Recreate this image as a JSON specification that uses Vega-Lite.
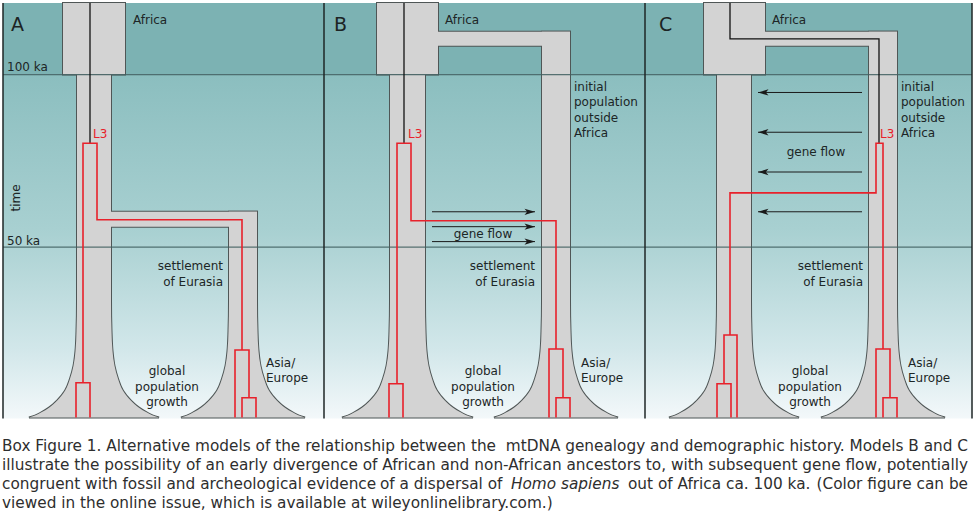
{
  "$schema": "https://vega.github.io/schema/vega-lite/v6.json",
  "width": 974,
  "height": 514,
  "autosize": {"type": "fit", "contains": "padding"},
  "padding": 0,
  "background": "white",
  "config": {
    "view": {"stroke": null},
    "axis": {"disable": true},
    "legend": {"disable": true}
  },
  "datasets": {
    "zones": [
      {"panel": "A", "zone": "before 100 ka", "x0": 3, "x1": 324, "y0": 0, "y1": 72},
      {"panel": "B", "zone": "before 100 ka", "x0": 324, "x1": 645, "y0": 0, "y1": 72},
      {"panel": "C", "zone": "before 100 ka", "x0": 645, "x1": 972, "y0": 0, "y1": 72},
      {"panel": "A", "zone": "after 100 ka", "x0": 3, "x1": 324, "y0": 72, "y1": 418},
      {"panel": "B", "zone": "after 100 ka", "x0": 324, "x1": 645, "y0": 72, "y1": 418},
      {"panel": "C", "zone": "after 100 ka", "x0": 645, "x1": 972, "y0": 72, "y1": 418}
    ],
    "blocks": [
      {"panel": "A", "part": "Africa", "x0": 63, "x1": 125, "y0": 0, "y1": 72},
      {"panel": "A", "part": "arm", "x0": 105, "x1": 257, "y0": 210, "y1": 225},
      {"panel": "B", "part": "Africa", "x0": 377, "x1": 438, "y0": 0, "y1": 72},
      {"panel": "B", "part": "arm", "x0": 430, "x1": 570, "y0": 29, "y1": 43},
      {"panel": "C", "part": "Africa", "x0": 704, "x1": 765, "y0": 0, "y1": 72},
      {"panel": "C", "part": "arm", "x0": 760, "x1": 897, "y0": 29, "y1": 43}
    ],
    "columns": [
      {"col": "A-africa", "y": 72, "xl": 77, "xr": 111},
      {"col": "A-africa", "y": 300, "xl": 77, "xr": 111},
      {"col": "A-africa", "y": 330, "xl": 76.5, "xr": 111.5},
      {"col": "A-africa", "y": 350, "xl": 75.5, "xr": 112.5},
      {"col": "A-africa", "y": 365, "xl": 73.5, "xr": 114.5},
      {"col": "A-africa", "y": 378, "xl": 70, "xr": 118},
      {"col": "A-africa", "y": 390, "xl": 65, "xr": 123},
      {"col": "A-africa", "y": 400, "xl": 57, "xr": 131},
      {"col": "A-africa", "y": 407, "xl": 49, "xr": 139},
      {"col": "A-africa", "y": 412, "xl": 41, "xr": 147},
      {"col": "A-africa", "y": 415, "xl": 35, "xr": 153},
      {"col": "A-africa", "y": 417, "xl": 29, "xr": 159},
      {"col": "A-eurasia", "y": 210, "xl": 229, "xr": 257},
      {"col": "A-eurasia", "y": 300, "xl": 229, "xr": 257},
      {"col": "A-eurasia", "y": 330, "xl": 228.5, "xr": 257.5},
      {"col": "A-eurasia", "y": 350, "xl": 227.5, "xr": 258.5},
      {"col": "A-eurasia", "y": 365, "xl": 225.5, "xr": 260.5},
      {"col": "A-eurasia", "y": 378, "xl": 222, "xr": 264},
      {"col": "A-eurasia", "y": 390, "xl": 217, "xr": 269},
      {"col": "A-eurasia", "y": 400, "xl": 209, "xr": 277},
      {"col": "A-eurasia", "y": 407, "xl": 201, "xr": 285},
      {"col": "A-eurasia", "y": 412, "xl": 193, "xr": 293},
      {"col": "A-eurasia", "y": 415, "xl": 187, "xr": 299},
      {"col": "A-eurasia", "y": 417, "xl": 181, "xr": 305},
      {"col": "B-africa", "y": 72, "xl": 390, "xr": 425},
      {"col": "B-africa", "y": 300, "xl": 390, "xr": 425},
      {"col": "B-africa", "y": 330, "xl": 389.5, "xr": 425.5},
      {"col": "B-africa", "y": 350, "xl": 388.5, "xr": 426.5},
      {"col": "B-africa", "y": 365, "xl": 386.5, "xr": 428.5},
      {"col": "B-africa", "y": 378, "xl": 383, "xr": 432},
      {"col": "B-africa", "y": 390, "xl": 378, "xr": 437},
      {"col": "B-africa", "y": 400, "xl": 370, "xr": 445},
      {"col": "B-africa", "y": 407, "xl": 362, "xr": 453},
      {"col": "B-africa", "y": 412, "xl": 354, "xr": 461},
      {"col": "B-africa", "y": 415, "xl": 348, "xr": 467},
      {"col": "B-africa", "y": 417, "xl": 342, "xr": 473},
      {"col": "B-eurasia", "y": 29, "xl": 542, "xr": 570},
      {"col": "B-eurasia", "y": 300, "xl": 542, "xr": 570},
      {"col": "B-eurasia", "y": 330, "xl": 541.5, "xr": 570.5},
      {"col": "B-eurasia", "y": 350, "xl": 540.5, "xr": 571.5},
      {"col": "B-eurasia", "y": 365, "xl": 538.5, "xr": 573.5},
      {"col": "B-eurasia", "y": 378, "xl": 535, "xr": 577},
      {"col": "B-eurasia", "y": 390, "xl": 530, "xr": 582},
      {"col": "B-eurasia", "y": 400, "xl": 522, "xr": 590},
      {"col": "B-eurasia", "y": 407, "xl": 514, "xr": 598},
      {"col": "B-eurasia", "y": 412, "xl": 506, "xr": 606},
      {"col": "B-eurasia", "y": 415, "xl": 500, "xr": 612},
      {"col": "B-eurasia", "y": 417, "xl": 494, "xr": 618},
      {"col": "C-africa", "y": 72, "xl": 717, "xr": 751},
      {"col": "C-africa", "y": 300, "xl": 717, "xr": 751},
      {"col": "C-africa", "y": 330, "xl": 716.5, "xr": 751.5},
      {"col": "C-africa", "y": 350, "xl": 715.5, "xr": 752.5},
      {"col": "C-africa", "y": 365, "xl": 713.5, "xr": 754.5},
      {"col": "C-africa", "y": 378, "xl": 710, "xr": 758},
      {"col": "C-africa", "y": 390, "xl": 705, "xr": 763},
      {"col": "C-africa", "y": 400, "xl": 697, "xr": 771},
      {"col": "C-africa", "y": 407, "xl": 689, "xr": 779},
      {"col": "C-africa", "y": 412, "xl": 681, "xr": 787},
      {"col": "C-africa", "y": 415, "xl": 675, "xr": 793},
      {"col": "C-africa", "y": 417, "xl": 669, "xr": 799},
      {"col": "C-eurasia", "y": 29, "xl": 869, "xr": 897},
      {"col": "C-eurasia", "y": 300, "xl": 869, "xr": 897},
      {"col": "C-eurasia", "y": 330, "xl": 868.5, "xr": 897.5},
      {"col": "C-eurasia", "y": 350, "xl": 867.5, "xr": 898.5},
      {"col": "C-eurasia", "y": 365, "xl": 865.5, "xr": 900.5},
      {"col": "C-eurasia", "y": 378, "xl": 862, "xr": 904},
      {"col": "C-eurasia", "y": 390, "xl": 857, "xr": 909},
      {"col": "C-eurasia", "y": 400, "xl": 849, "xr": 917},
      {"col": "C-eurasia", "y": 407, "xl": 841, "xr": 925},
      {"col": "C-eurasia", "y": 412, "xl": 833, "xr": 933},
      {"col": "C-eurasia", "y": 415, "xl": 827, "xr": 939},
      {"col": "C-eurasia", "y": 417, "xl": 821, "xr": 945}
    ],
    "timelines": [
      {"ka": "100 ka", "x0": 3, "x1": 972, "y": 72},
      {"ka": "50 ka", "x0": 3, "x1": 972, "y": 245.5}
    ],
    "frames": [
      {"edge": "A left", "x": 3, "y0": 0, "y1": 418},
      {"edge": "A|B", "x": 324, "y0": 0, "y1": 418},
      {"edge": "B|C", "x": 645, "y0": 0, "y1": 418},
      {"edge": "C right", "x": 972, "y0": 0, "y1": 418}
    ],
    "ancestral": [
      {"path": "A", "ord": 1, "x": 90, "y": 0},
      {"path": "A", "ord": 2, "x": 90, "y": 141},
      {"path": "B", "ord": 1, "x": 404, "y": 0},
      {"path": "B", "ord": 2, "x": 404, "y": 141},
      {"path": "C", "ord": 1, "x": 730, "y": 0},
      {"path": "C", "ord": 2, "x": 730, "y": 36},
      {"path": "C", "ord": 3, "x": 879, "y": 36},
      {"path": "C", "ord": 4, "x": 879, "y": 141}
    ],
    "L3": [
      {"path": "A1", "ord": 1, "x": 76, "y": 417},
      {"path": "A1", "ord": 2, "x": 76, "y": 382},
      {"path": "A1", "ord": 3, "x": 90, "y": 382},
      {"path": "A1", "ord": 4, "x": 90, "y": 417},
      {"path": "A2", "ord": 1, "x": 83, "y": 382},
      {"path": "A2", "ord": 2, "x": 83, "y": 141},
      {"path": "A2", "ord": 3, "x": 97, "y": 141},
      {"path": "A2", "ord": 4, "x": 97, "y": 218},
      {"path": "A2", "ord": 5, "x": 242, "y": 218},
      {"path": "A2", "ord": 6, "x": 242, "y": 349},
      {"path": "A3", "ord": 1, "x": 235, "y": 417},
      {"path": "A3", "ord": 2, "x": 235, "y": 349},
      {"path": "A3", "ord": 3, "x": 249, "y": 349},
      {"path": "A3", "ord": 4, "x": 249, "y": 397},
      {"path": "A4", "ord": 1, "x": 242, "y": 417},
      {"path": "A4", "ord": 2, "x": 242, "y": 397},
      {"path": "A4", "ord": 3, "x": 256, "y": 397},
      {"path": "A4", "ord": 4, "x": 256, "y": 417},
      {"path": "B1", "ord": 1, "x": 389, "y": 417},
      {"path": "B1", "ord": 2, "x": 389, "y": 383},
      {"path": "B1", "ord": 3, "x": 403, "y": 383},
      {"path": "B1", "ord": 4, "x": 403, "y": 417},
      {"path": "B2", "ord": 1, "x": 397, "y": 383},
      {"path": "B2", "ord": 2, "x": 397, "y": 141},
      {"path": "B2", "ord": 3, "x": 411, "y": 141},
      {"path": "B2", "ord": 4, "x": 411, "y": 219},
      {"path": "B2", "ord": 5, "x": 556, "y": 219},
      {"path": "B2", "ord": 6, "x": 556, "y": 348},
      {"path": "B3", "ord": 1, "x": 549, "y": 417},
      {"path": "B3", "ord": 2, "x": 549, "y": 348},
      {"path": "B3", "ord": 3, "x": 563, "y": 348},
      {"path": "B3", "ord": 4, "x": 563, "y": 397},
      {"path": "B4", "ord": 1, "x": 556, "y": 417},
      {"path": "B4", "ord": 2, "x": 556, "y": 397},
      {"path": "B4", "ord": 3, "x": 570, "y": 397},
      {"path": "B4", "ord": 4, "x": 570, "y": 417},
      {"path": "C1", "ord": 1, "x": 730, "y": 334},
      {"path": "C1", "ord": 2, "x": 730, "y": 191},
      {"path": "C1", "ord": 3, "x": 876, "y": 191},
      {"path": "C1", "ord": 4, "x": 876, "y": 141},
      {"path": "C1", "ord": 5, "x": 883, "y": 141},
      {"path": "C1", "ord": 6, "x": 883, "y": 348},
      {"path": "C2", "ord": 1, "x": 724, "y": 383},
      {"path": "C2", "ord": 2, "x": 724, "y": 334},
      {"path": "C2", "ord": 3, "x": 737, "y": 334},
      {"path": "C2", "ord": 4, "x": 737, "y": 417},
      {"path": "C3", "ord": 1, "x": 717, "y": 417},
      {"path": "C3", "ord": 2, "x": 717, "y": 383},
      {"path": "C3", "ord": 3, "x": 731, "y": 383},
      {"path": "C3", "ord": 4, "x": 731, "y": 417},
      {"path": "C4", "ord": 1, "x": 876, "y": 417},
      {"path": "C4", "ord": 2, "x": 876, "y": 348},
      {"path": "C4", "ord": 3, "x": 890, "y": 348},
      {"path": "C4", "ord": 4, "x": 890, "y": 397},
      {"path": "C5", "ord": 1, "x": 883, "y": 417},
      {"path": "C5", "ord": 2, "x": 883, "y": 397},
      {"path": "C5", "ord": 3, "x": 897, "y": 397},
      {"path": "C5", "ord": 4, "x": 897, "y": 417}
    ],
    "geneflow": [
      {"panel": "B", "dir": "east", "from": 432, "to": 535, "y": 210},
      {"panel": "B", "dir": "east", "from": 432, "to": 535, "y": 225},
      {"panel": "B", "dir": "east", "from": 432, "to": 535, "y": 240},
      {"panel": "C", "dir": "west", "from": 862, "to": 758, "y": 90},
      {"panel": "C", "dir": "west", "from": 862, "to": 758, "y": 130},
      {"panel": "C", "dir": "west", "from": 862, "to": 758, "y": 170},
      {"panel": "C", "dir": "west", "from": 862, "to": 758, "y": 210}
    ],
    "labels": [
      {"role": "panel", "t": "A", "x": 11, "y": 22},
      {"role": "panel", "t": "B", "x": 334, "y": 22},
      {"role": "panel", "t": "C", "x": 659, "y": 22},
      {"role": "note", "t": "Africa", "x": 133, "y": 17},
      {"role": "note", "t": "100 ka", "x": 7, "y": 64},
      {"role": "note", "t": "50 ka", "x": 7, "y": 239},
      {"role": "note", "t": "Asia/", "x": 266, "y": 362},
      {"role": "note", "t": "Europe", "x": 266, "y": 377},
      {"role": "note", "t": "Africa", "x": 445, "y": 17},
      {"role": "note", "t": "initial", "x": 574, "y": 84.5},
      {"role": "note", "t": "population", "x": 574, "y": 100},
      {"role": "note", "t": "outside", "x": 574, "y": 115.5},
      {"role": "note", "t": "Africa", "x": 574, "y": 131},
      {"role": "note", "t": "Asia/", "x": 581, "y": 362},
      {"role": "note", "t": "Europe", "x": 581, "y": 377},
      {"role": "note", "t": "Africa", "x": 772, "y": 17},
      {"role": "note", "t": "initial", "x": 901, "y": 84.5},
      {"role": "note", "t": "population", "x": 901, "y": 100},
      {"role": "note", "t": "outside", "x": 901, "y": 115.5},
      {"role": "note", "t": "Africa", "x": 901, "y": 131},
      {"role": "note", "t": "Asia/", "x": 908, "y": 362},
      {"role": "note", "t": "Europe", "x": 908, "y": 377},
      {"role": "noteRight", "t": "settlement", "x": 223, "y": 265},
      {"role": "noteRight", "t": "of Eurasia", "x": 223, "y": 281},
      {"role": "noteRight", "t": "settlement", "x": 535, "y": 265},
      {"role": "noteRight", "t": "of Eurasia", "x": 535, "y": 281},
      {"role": "noteRight", "t": "settlement", "x": 863, "y": 265},
      {"role": "noteRight", "t": "of Eurasia", "x": 863, "y": 281},
      {"role": "noteCenter", "t": "global", "x": 167, "y": 370},
      {"role": "noteCenter", "t": "population", "x": 167, "y": 386},
      {"role": "noteCenter", "t": "growth", "x": 167, "y": 401},
      {"role": "noteCenter", "t": "global", "x": 483, "y": 370},
      {"role": "noteCenter", "t": "population", "x": 483, "y": 386},
      {"role": "noteCenter", "t": "growth", "x": 483, "y": 401},
      {"role": "noteCenter", "t": "global", "x": 810, "y": 370},
      {"role": "noteCenter", "t": "population", "x": 810, "y": 386},
      {"role": "noteCenter", "t": "growth", "x": 810, "y": 401},
      {"role": "noteCenter", "t": "gene flow", "x": 483, "y": 232},
      {"role": "noteCenter", "t": "gene flow", "x": 816, "y": 150},
      {"role": "haplogroup", "t": "L3", "x": 93, "y": 132},
      {"role": "haplogroup", "t": "L3", "x": 408, "y": 132},
      {"role": "haplogroup", "t": "L3", "x": 880, "y": 132},
      {"role": "axis", "t": "time", "x": 16, "y": 196}
    ],
    "caption": [
      {"role": "left", "t": "Box Figure 1. Alternative models of the relationship between the", "x": 2, "y": 451},
      {"role": "right", "t": "mtDNA genealogy and demographic history. Models B and C", "x": 968, "y": 451},
      {"role": "left", "t": "illustrate the possibility of an early divergence of African and", "x": 2, "y": 470},
      {"role": "right", "t": "non-African ancestors to, with subsequent gene flow, potentially", "x": 968, "y": 470},
      {"role": "left", "t": "congruent with fossil and archeological evidence", "x": 2, "y": 489},
      {"role": "left", "t": "of a dispersal of", "x": 380, "y": 489},
      {"role": "italic", "t": "Homo sapiens", "x": 511, "y": 489},
      {"role": "left", "t": "out of Africa ca. 100 ka.", "x": 628, "y": 489},
      {"role": "right", "t": "(Color figure can be", "x": 968, "y": 489},
      {"role": "left", "t": "viewed in the online issue, which is available at wileyonlinelibrary.com.)", "x": 2, "y": 508}
    ]
  },
  "layer": [
    {
      "data": {"name": "zones"},
      "transform": [{"filter": "datum.zone == 'before 100 ka'"}],
      "mark": {"type": "rect", "fill": "#7cb2b3"},
      "encoding": {
        "x": {"field": "x0", "type": "quantitative", "scale": {"domain": [0, 974], "nice": false, "zero": false}},
        "x2": {"field": "x1"},
        "y": {"field": "y0", "type": "quantitative", "scale": {"domain": [0, 514], "nice": false, "zero": false, "reverse": true}},
        "y2": {"field": "y1"}
      }
    },
    {
      "data": {"name": "zones"},
      "transform": [{"filter": "datum.zone == 'after 100 ka'"}],
      "mark": {
        "type": "rect",
        "fill": {
          "gradient": "linear", "x1": 0, "y1": 0, "x2": 0, "y2": 1,
          "stops": [
            {"offset": 0, "color": "#8bbebf"},
            {"offset": 0.45, "color": "#a8d0d1"},
            {"offset": 0.8, "color": "#d2e7ea"},
            {"offset": 1, "color": "#f3f8fa"}
          ]
        }
      },
      "encoding": {
        "x": {"field": "x0", "type": "quantitative", "scale": {"domain": [0, 974], "nice": false, "zero": false}},
        "x2": {"field": "x1"},
        "y": {"field": "y0", "type": "quantitative", "scale": {"domain": [0, 514], "nice": false, "zero": false, "reverse": true}},
        "y2": {"field": "y1"}
      }
    },
    {
      "data": {"name": "blocks"},
      "mark": {"type": "rect", "fill": "#d3d3d3", "stroke": "#4f5656", "strokeWidth": 2},
      "encoding": {
        "x": {"field": "x0", "type": "quantitative", "scale": {"domain": [0, 974], "nice": false, "zero": false}},
        "x2": {"field": "x1"},
        "y": {"field": "y0", "type": "quantitative", "scale": {"domain": [0, 514], "nice": false, "zero": false, "reverse": true}},
        "y2": {"field": "y1"}
      }
    },
    {
      "data": {"name": "columns"},
      "mark": {"type": "area", "orient": "horizontal", "interpolate": "monotone", "fill": "#d3d3d3", "stroke": "#4f5656", "strokeWidth": 2},
      "encoding": {
        "y": {"field": "y", "type": "quantitative", "scale": {"domain": [0, 514], "nice": false, "zero": false, "reverse": true}},
        "x": {"field": "xl", "type": "quantitative", "scale": {"domain": [0, 974], "nice": false, "zero": false}},
        "x2": {"field": "xr"},
        "detail": {"field": "col"}
      }
    },
    {
      "data": {"name": "blocks"},
      "mark": {"type": "rect", "fill": "#d3d3d3", "strokeWidth": 0},
      "encoding": {
        "x": {"field": "x0", "type": "quantitative", "scale": {"domain": [0, 974], "nice": false, "zero": false}},
        "x2": {"field": "x1"},
        "y": {"field": "y0", "type": "quantitative", "scale": {"domain": [0, 514], "nice": false, "zero": false, "reverse": true}},
        "y2": {"field": "y1"}
      }
    },
    {
      "data": {"name": "columns"},
      "mark": {"type": "area", "orient": "horizontal", "interpolate": "monotone", "fill": "#d3d3d3", "strokeWidth": 0},
      "encoding": {
        "y": {"field": "y", "type": "quantitative", "scale": {"domain": [0, 514], "nice": false, "zero": false, "reverse": true}},
        "x": {"field": "xl", "type": "quantitative", "scale": {"domain": [0, 974], "nice": false, "zero": false}},
        "x2": {"field": "xr"},
        "detail": {"field": "col"}
      }
    },
    {
      "data": {"name": "timelines"},
      "mark": {"type": "rule", "stroke": "#3f5e5f", "strokeWidth": 1.2, "opacity": 0.85},
      "encoding": {
        "x": {"field": "x0", "type": "quantitative", "scale": {"domain": [0, 974], "nice": false, "zero": false}},
        "x2": {"field": "x1"},
        "y": {"field": "y", "type": "quantitative", "scale": {"domain": [0, 514], "nice": false, "zero": false, "reverse": true}}
      }
    },
    {
      "data": {"name": "frames"},
      "mark": {"type": "rule", "stroke": "#1e2626", "strokeWidth": 1.5},
      "encoding": {
        "x": {"field": "x", "type": "quantitative", "scale": {"domain": [0, 974], "nice": false, "zero": false}},
        "y": {"field": "y0", "type": "quantitative", "scale": {"domain": [0, 514], "nice": false, "zero": false, "reverse": true}},
        "y2": {"field": "y1"}
      }
    },
    {
      "data": {"name": "ancestral"},
      "mark": {"type": "line", "stroke": "#111111", "strokeWidth": 1.3, "interpolate": "linear"},
      "encoding": {
        "x": {"field": "x", "type": "quantitative", "scale": {"domain": [0, 974], "nice": false, "zero": false}},
        "y": {"field": "y", "type": "quantitative", "scale": {"domain": [0, 514], "nice": false, "zero": false, "reverse": true}},
        "detail": {"field": "path"},
        "order": {"field": "ord"}
      }
    },
    {
      "data": {"name": "L3"},
      "mark": {"type": "line", "stroke": "#e8212b", "strokeWidth": 1.6, "interpolate": "linear"},
      "encoding": {
        "x": {"field": "x", "type": "quantitative", "scale": {"domain": [0, 974], "nice": false, "zero": false}},
        "y": {"field": "y", "type": "quantitative", "scale": {"domain": [0, 514], "nice": false, "zero": false, "reverse": true}},
        "detail": {"field": "path"},
        "order": {"field": "ord"}
      }
    },
    {
      "data": {"name": "geneflow"},
      "mark": {"type": "rule", "stroke": "#1a1a1a", "strokeWidth": 1},
      "encoding": {
        "x": {"field": "from", "type": "quantitative", "scale": {"domain": [0, 974], "nice": false, "zero": false}},
        "x2": {"field": "to"},
        "y": {"field": "y", "type": "quantitative", "scale": {"domain": [0, 514], "nice": false, "zero": false, "reverse": true}}
      }
    },
    {
      "data": {"name": "geneflow"},
      "mark": {"type": "point", "filled": true, "fill": "#1a1a1a", "strokeWidth": 0, "size": 110, "opacity": 1},
      "encoding": {
        "x": {"field": "to", "type": "quantitative", "scale": {"domain": [0, 974], "nice": false, "zero": false}},
        "y": {"field": "y", "type": "quantitative", "scale": {"domain": [0, 514], "nice": false, "zero": false, "reverse": true}},
        "shape": {
          "field": "dir", "type": "nominal",
          "scale": {"domain": ["east", "west"], "range": ["M0,0L-2,-0.6L-1.5,0L-2,0.6Z", "M0,0L2,-0.6L1.5,0L2,0.6Z"]}
        }
      }
    },
    {
      "data": {"name": "labels"},
      "transform": [{"filter": "datum.role == 'panel'"}],
      "mark": {"type": "text", "align": "left", "baseline": "middle", "font": "DejaVu Sans", "fontSize": 19, "fill": "#1c2424"},
      "encoding": {
        "x": {"field": "x", "type": "quantitative", "scale": {"domain": [0, 974], "nice": false, "zero": false}},
        "y": {"field": "y", "type": "quantitative", "scale": {"domain": [0, 514], "nice": false, "zero": false, "reverse": true}},
        "text": {"field": "t"}
      }
    },
    {
      "data": {"name": "labels"},
      "transform": [{"filter": "datum.role == 'note'"}],
      "mark": {"type": "text", "align": "left", "baseline": "middle", "font": "DejaVu Sans", "fontSize": 12, "fill": "#1c2626"},
      "encoding": {
        "x": {"field": "x", "type": "quantitative", "scale": {"domain": [0, 974], "nice": false, "zero": false}},
        "y": {"field": "y", "type": "quantitative", "scale": {"domain": [0, 514], "nice": false, "zero": false, "reverse": true}},
        "text": {"field": "t"}
      }
    },
    {
      "data": {"name": "labels"},
      "transform": [{"filter": "datum.role == 'noteRight'"}],
      "mark": {"type": "text", "align": "right", "baseline": "middle", "font": "DejaVu Sans", "fontSize": 12, "fill": "#1c2626"},
      "encoding": {
        "x": {"field": "x", "type": "quantitative", "scale": {"domain": [0, 974], "nice": false, "zero": false}},
        "y": {"field": "y", "type": "quantitative", "scale": {"domain": [0, 514], "nice": false, "zero": false, "reverse": true}},
        "text": {"field": "t"}
      }
    },
    {
      "data": {"name": "labels"},
      "transform": [{"filter": "datum.role == 'noteCenter'"}],
      "mark": {"type": "text", "align": "center", "baseline": "middle", "font": "DejaVu Sans", "fontSize": 12, "fill": "#1c2626"},
      "encoding": {
        "x": {"field": "x", "type": "quantitative", "scale": {"domain": [0, 974], "nice": false, "zero": false}},
        "y": {"field": "y", "type": "quantitative", "scale": {"domain": [0, 514], "nice": false, "zero": false, "reverse": true}},
        "text": {"field": "t"}
      }
    },
    {
      "data": {"name": "labels"},
      "transform": [{"filter": "datum.role == 'haplogroup'"}],
      "mark": {"type": "text", "align": "left", "baseline": "middle", "font": "DejaVu Sans", "fontSize": 12, "fill": "#e8212b"},
      "encoding": {
        "x": {"field": "x", "type": "quantitative", "scale": {"domain": [0, 974], "nice": false, "zero": false}},
        "y": {"field": "y", "type": "quantitative", "scale": {"domain": [0, 514], "nice": false, "zero": false, "reverse": true}},
        "text": {"field": "t"}
      }
    },
    {
      "data": {"name": "labels"},
      "transform": [{"filter": "datum.role == 'axis'"}],
      "mark": {"type": "text", "align": "center", "baseline": "middle", "angle": 270, "font": "DejaVu Sans", "fontSize": 12, "fill": "#1c2626"},
      "encoding": {
        "x": {"field": "x", "type": "quantitative", "scale": {"domain": [0, 974], "nice": false, "zero": false}},
        "y": {"field": "y", "type": "quantitative", "scale": {"domain": [0, 514], "nice": false, "zero": false, "reverse": true}},
        "text": {"field": "t"}
      }
    },
    {
      "data": {"name": "caption"},
      "transform": [{"filter": "datum.role == 'left'"}],
      "mark": {"type": "text", "align": "left", "baseline": "alphabetic", "font": "DejaVu Sans", "fontSize": 15.3, "fill": "#2e2e2e"},
      "encoding": {
        "x": {"field": "x", "type": "quantitative", "scale": {"domain": [0, 974], "nice": false, "zero": false}},
        "y": {"field": "y", "type": "quantitative", "scale": {"domain": [0, 514], "nice": false, "zero": false, "reverse": true}},
        "text": {"field": "t"}
      }
    },
    {
      "data": {"name": "caption"},
      "transform": [{"filter": "datum.role == 'right'"}],
      "mark": {"type": "text", "align": "right", "baseline": "alphabetic", "font": "DejaVu Sans", "fontSize": 15.3, "fill": "#2e2e2e"},
      "encoding": {
        "x": {"field": "x", "type": "quantitative", "scale": {"domain": [0, 974], "nice": false, "zero": false}},
        "y": {"field": "y", "type": "quantitative", "scale": {"domain": [0, 514], "nice": false, "zero": false, "reverse": true}},
        "text": {"field": "t"}
      }
    },
    {
      "data": {"name": "caption"},
      "transform": [{"filter": "datum.role == 'italic'"}],
      "mark": {"type": "text", "align": "left", "baseline": "alphabetic", "font": "DejaVu Sans", "fontStyle": "italic", "fontSize": 15.3, "fill": "#2e2e2e"},
      "encoding": {
        "x": {"field": "x", "type": "quantitative", "scale": {"domain": [0, 974], "nice": false, "zero": false}},
        "y": {"field": "y", "type": "quantitative", "scale": {"domain": [0, 514], "nice": false, "zero": false, "reverse": true}},
        "text": {"field": "t"}
      }
    }
  ]
}
